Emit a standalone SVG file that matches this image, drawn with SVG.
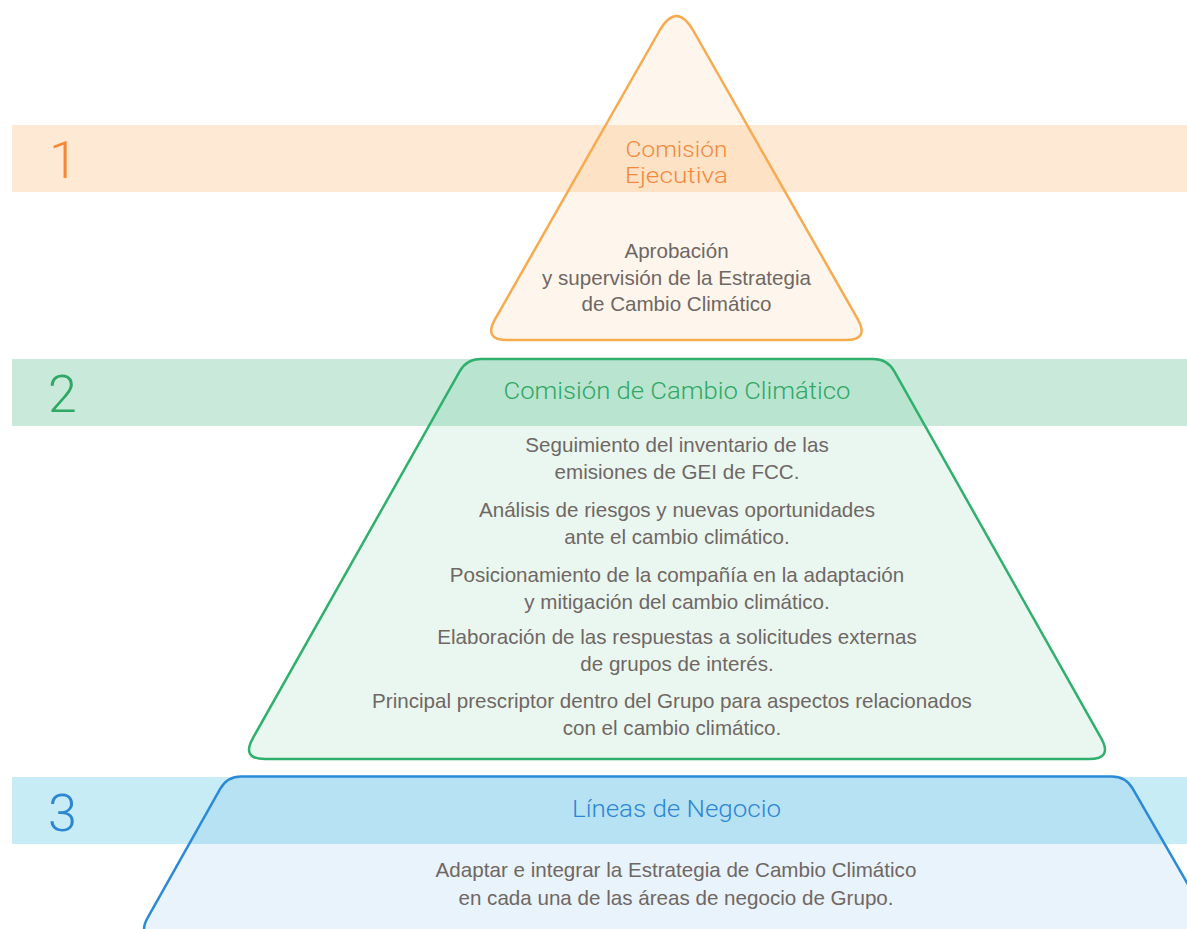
<svg xmlns="http://www.w3.org/2000/svg" width="1187" height="929" viewBox="0 0 1187 929">
<style>
.body{font-family:"Liberation Sans",Arial,sans-serif;font-size:20.6px;fill:#6f6764;text-anchor:middle}
.title{font-family:Roboto,"DejaVu Sans",sans-serif;font-weight:300;font-size:24px;text-anchor:middle}
.t1{font-size:22.5px}
.num{font-family:Roboto,"DejaVu Sans",sans-serif;font-weight:300;font-size:52px}
.o{fill:#f5883a}.g{fill:#2fa865}.b{fill:#2b86d3}
</style>
<rect width="1187" height="929" fill="#ffffff"/>
<g id="bands">
<rect x="12" y="125" width="1175" height="67" fill="#fee9d4"/>
<rect x="12" y="359" width="1175" height="67" fill="#c9eadb"/>
<rect x="12" y="777" width="1175" height="67" fill="#c8ecf6"/>
</g>
<g id="numbers">
<text class="num o" x="49" y="178">1</text>
<text class="num g" x="48" y="412">2</text>
<text class="num b" x="48" y="831">3</text>
</g>
<g id="connectors"/>
<g id="level1">
<path d="M659.3,31 Q676.4,1 693.5,31 L857.7,319.1 Q869.6,340 845.6,340 L507.2,340 Q483.2,340 495.1,319.1 Z" fill="#f9aa4e" fill-opacity="0.1" stroke="#f9aa4e" stroke-width="2.5" stroke-linejoin="round"/>
<text class="title t1 o" x="676.5" y="157" textLength="102" lengthAdjust="spacingAndGlyphs">Comisión</text>
<text class="title t1 o" x="676.5" y="183" textLength="103" lengthAdjust="spacingAndGlyphs">Ejecutiva</text>
<text class="body" x="676.5" y="258">Aprobación</text>
<text class="body" x="676.5" y="285">y supervisión de la Estrategia</text>
<text class="body" x="676.5" y="311">de Cambio Climático</text>
</g>
<g id="level2">
<path d="M480.7,359 L873.3,359 Q887.3,359 894.2,371.2 L1101.1,738.1 Q1112.9,759 1088.9,759 L265.1,759 Q241.1,759 252.9,738.1 L459.8,371.2 Q466.7,359 480.7,359 Z" fill="#2fb06c" fill-opacity="0.1" stroke="#2fb06c" stroke-width="2.5"/>
<text class="title g" x="677" y="399" textLength="347" lengthAdjust="spacingAndGlyphs">Comisión de Cambio Climático</text>
<text class="body" x="677" y="452">Seguimiento del inventario de las</text>
<text class="body" x="677" y="479">emisiones de GEI de FCC.</text>
<text class="body" x="677" y="517">Análisis de riesgos y nuevas oportunidades</text>
<text class="body" x="677" y="544">ante el cambio climático.</text>
<text class="body" x="677" y="582">Posicionamiento de la compañía en la adaptación</text>
<text class="body" x="677" y="609">y mitigación del cambio climático.</text>
<text class="body" x="677" y="644">Elaboración de las respuestas a solicitudes externas</text>
<text class="body" x="677" y="671">de grupos de interés.</text>
<text class="body" x="672" y="708">Principal prescriptor dentro del Grupo para aspectos relacionados</text>
<text class="body" x="672" y="735">con el cambio climático.</text>
</g>
<g id="level3">
<path d="M241.2,776.5 L1111.8,776.5 Q1125.8,776.5 1132.7,788.7 L1220,940 L140,940 L148,915.2 L220.3,788.7 Q227.2,776.5 241.2,776.5 Z" fill="#2b8ad8" fill-opacity="0.1" stroke="none"/>
<path d="M160.1,938 Q136.1,938 148,917.2 L220.3,788.7 Q227.2,776.5 241.2,776.5 L1111.8,776.5 Q1125.8,776.5 1132.7,788.7 L1220,940" fill="none" stroke="#2b8ad8" stroke-width="2.5"/>
<text class="title b" x="676.5" y="817" textLength="209" lengthAdjust="spacingAndGlyphs">Líneas de Negocio</text>
<text class="body" x="676" y="877">Adaptar e integrar la Estrategia de Cambio Climático</text>
<text class="body" x="676" y="905">en cada una de las áreas de negocio de Grupo.</text>
</g>
</svg>
